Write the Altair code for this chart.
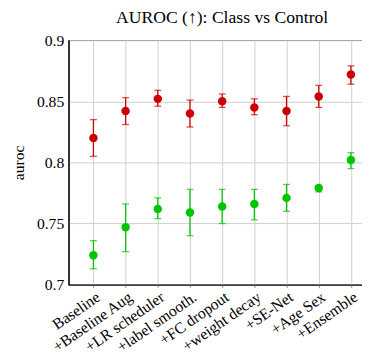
import altair as alt
import pandas as pd

categories = ["Baseline", "+Baseline Aug", "+LR scheduler", "+label smooth.", "+FC dropout",
              "+weight decay", "+SE-Net", "+Age Sex", "+Ensemble"]
red_mean = [0.820, 0.842, 0.852, 0.840, 0.850, 0.845, 0.842, 0.854, 0.872]
red_lo = [0.805, 0.831, 0.846, 0.829, 0.845, 0.839, 0.830, 0.845, 0.864]
red_hi = [0.835, 0.853, 0.859, 0.851, 0.856, 0.852, 0.854, 0.863, 0.879]
green_mean = [0.724, 0.747, 0.762, 0.759, 0.764, 0.766, 0.771, 0.779, 0.802]
green_lo = [0.713, 0.727, 0.754, 0.740, 0.750, 0.753, 0.760, 0.776, 0.795]
green_hi = [0.736, 0.766, 0.771, 0.778, 0.778, 0.778, 0.782, 0.781, 0.808]

rows = []
for i, c in enumerate(categories):
    rows.append(dict(cat=c, s="red", m=red_mean[i], lo=red_lo[i], hi=red_hi[i]))
    rows.append(dict(cat=c, s="green", m=green_mean[i], lo=green_lo[i], hi=green_hi[i]))
df = pd.DataFrame(rows)

FONT = "Liberation Serif"
x = alt.X("cat:N", sort=categories, title=None,
          scale=alt.Scale(type="point", padding=0.77),
          axis=alt.Axis(labelAngle=-35, labelAlign="right", labelBaseline="top",
                        labelFontSize=16, labelFont=FONT, labelColor="black",
                        grid=True, gridColor="#cfcfcf", tickColor="#999", tickSize=3,
                        domainColor="black", labelPadding=1))
yscale = alt.Scale(domain=[0.7, 0.9], nice=False, zero=False)
yaxis = alt.Axis(values=[0.7, 0.75, 0.8, 0.85, 0.9], labelExpr="format(datum.value, '')",
                 labelFontSize=16, labelFont=FONT, labelColor="black", labelPadding=5,
                 title="auroc", titleFont=FONT, titleFontSize=16, titleFontWeight="normal",
                 titleColor="black", titlePadding=10,
                 grid=True, gridColor="#cfcfcf", tickSize=0, domainColor="black")
color = alt.Color("s:N", scale=alt.Scale(domain=["red", "green"], range=["#cc0000", "#00c400"]), legend=None)

base = alt.Chart(df)
rules = base.mark_rule(strokeWidth=1.3).encode(x=x, y=alt.Y("lo:Q", scale=yscale, axis=yaxis), y2="hi:Q", color=color)
cap_lo = base.mark_tick(orient="horizontal", size=7, thickness=1.3).encode(x=x, y=alt.Y("lo:Q", scale=yscale), color=color)
cap_hi = base.mark_tick(orient="horizontal", size=7, thickness=1.3).encode(x=x, y=alt.Y("hi:Q", scale=yscale), color=color)
pts = base.mark_circle(size=75, opacity=1).encode(x=x, y=alt.Y("m:Q", scale=yscale), color=color)

chart = alt.layer(rules, cap_lo, cap_hi, pts).properties(
    width=362, height=347,
    autosize=alt.AutoSizeParams(type="fit", contains="padding"),
    title=alt.TitleParams("AUROC (↑): Class vs Control", font=FONT, fontSize=18,
                          fontWeight="normal", color="black", offset=6),
    padding={"left": 3, "top": -3, "right": -14, "bottom": -4},
).configure_view(stroke="black", strokeWidth=1.2)

chart.save("out.html", embed_options={"renderer": "svg", "actions": False})
